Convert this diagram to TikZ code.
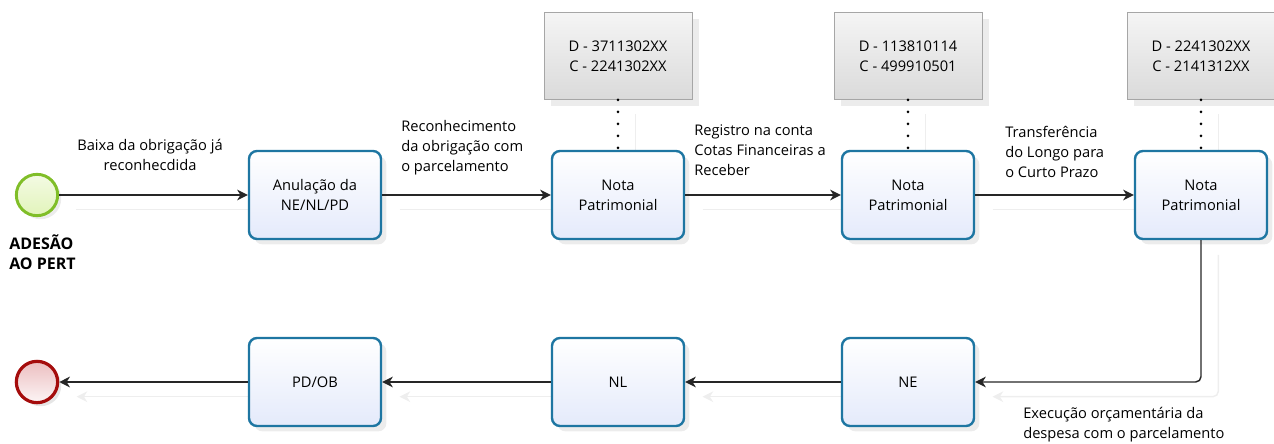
\documentclass[tikz,border=0pt]{standalone}
\usepackage{fontspec}
\setmainfont{Open Sans}
\usetikzlibrary{arrows.meta, positioning, shadows}
\definecolor{taskblue}{RGB}{30,118,162}
\definecolor{taskfill}{RGB}{228,234,251}
\definecolor{startgreen}{RGB}{128,190,40}
\definecolor{startfill}{RGB}{226,244,186}
\definecolor{endred}{RGB}{165,12,12}
\definecolor{endfill}{RGB}{236,190,192}
\definecolor{notefill}{RGB}{218,218,218}
\definecolor{flowshade}{RGB}{238,238,238}
\pgfdeclarelayer{background}
\pgfsetlayers{background,main}

\begin{document}
\begin{tikzpicture}[%
    x = 0.75pt,
    y = -0.75pt,
    >= { Stealth[length=8pt, width=8pt, inset=2.5pt] },
    font = \fontsize{11}{15}\selectfont,
    flow/.style = {->, line width=1.1pt, draw=black!85},
    flowshadow/.style = {->, line width=1.1pt, draw=flowshade,
      transform canvas={xshift=13pt, yshift=-11pt}},
    assoc/.style = {line width=2.2pt, line cap=round,
      dash pattern=on 0pt off 9pt},
    task/.style = {%
      rectangle,
      rounded corners = 6pt,
      draw = taskblue,
      line width = 1.8pt,
      top color = white,
      bottom color = taskfill,
      minimum width = 99pt,
      minimum height = 66pt,
      align = center,
      drop shadow = {opacity=0.15, shadow xshift=4pt, shadow yshift=-4pt} },
    note/.style = {%
      rectangle,
      draw = black!35,
      line width = 0.7pt,
      top color = white!96!black,
      bottom color = notefill,
      minimum width = 111pt,
      minimum height = 65pt,
      align = center,
      drop shadow = {opacity=0.15, shadow xshift=5pt, shadow yshift=-5pt} },
    label/.style = {inner sep=0pt, align=left, anchor=base west}
  ]

\useasboundingbox (0,0) rectangle (1274,443);

% eventos
\node[circle, draw=startgreen, line width=2.2pt, minimum size=31pt,
  top color=white!60!startfill, bottom color=startfill,
  drop shadow={opacity=0.15}] (start) at (37,195) {};
\node[circle, draw=endred, line width=2.4pt, minimum size=31pt,
  top color=endfill, bottom color=white!85!endfill,
  drop shadow={opacity=0.2}] (fim) at (37,382) {};

% tarefas
\node[task] (anul) at (315,195) {Anulação da\\NE/NL/PD};
\node[task] (np1) at (618,195) {Nota\\Patrimonial};
\node[task] (np2) at (908,195) {Nota\\Patrimonial};
\node[task] (np3) at (1201,195) {Nota\\Patrimonial};
\node[task] (ne) at (908,382) {NE};
\node[task] (nl) at (618,382) {NL};
\node[task] (pdob) at (315,382) {PD/OB};

% lancamentos
\node[note] (n1) [above=37.5pt of np1] {D - 3711302XX\\C - 2241302XX};
\node[note] (n2) [above=37.5pt of np2] {D - 113810114\\C - 499910501};
\node[note] (n3) [above=37.5pt of np3] {D - 2241302XX\\C - 2141312XX};

% rotulos (base = ultima linha)
\node[label, font=\fontsize{12}{15}\bfseries] (ades) at (9,269) {ADESÃO\\AO PERT};
\node[inner sep=0pt, align=center, anchor=base] (lb1) at (150,170)
  {Baixa da obrigação já\\reconhecdida};
\node[label] (lb2) at (401,171) {Reconhecimento\\da obrigação com\\o parcelamento};
\node[label] (lb3) at (694,175) {Registro na conta\\Cotas Financeiras a\\Receber};
\node[label] (lb4) at (1005,177) {Transferência\\do Longo para\\o Curto Prazo};
\node[label] (lb5) at (1023,438) {Execução orçamentária da\\despesa com o parcelamento};

% sombras dos fluxos
\begin{pgfonlayer}{background}
\draw[flowshadow] (start) -- (anul);
\draw[flowshadow] (anul) -- (np1);
\draw[flowshadow] (np1) -- (np2);
\draw[flowshadow] (np2) -- (np3);
\draw[flowshadow, rounded corners=4pt] (np3.south) |- (ne.east);
\draw[flowshadow] (ne) -- (nl);
\draw[flowshadow] (nl) -- (pdob);
\draw[flowshadow] (pdob) -- (fim);
\draw[flowshadow, -] (n1.south) -- (np1.north);
\draw[flowshadow, -] (n2.south) -- (np2.north);
\draw[flowshadow, -] (n3.south) -- (np3.north);
\end{pgfonlayer}

% fluxos
\draw[flow] (start) -- (anul);
\draw[flow] (anul) -- (np1);
\draw[flow] (np1) -- (np2);
\draw[flow] (np2) -- (np3);
\draw[flow, rounded corners=4pt] (np3.south) |- (ne.east);
\draw[flow] (ne) -- (nl);
\draw[flow] (nl) -- (pdob);
\draw[flow] (pdob) -- (fim);

\draw[assoc] (n1.south) -- (np1.north);
\draw[assoc] (n2.south) -- (np2.north);
\draw[assoc] (n3.south) -- (np3.north);

\end{tikzpicture}
\end{document}
